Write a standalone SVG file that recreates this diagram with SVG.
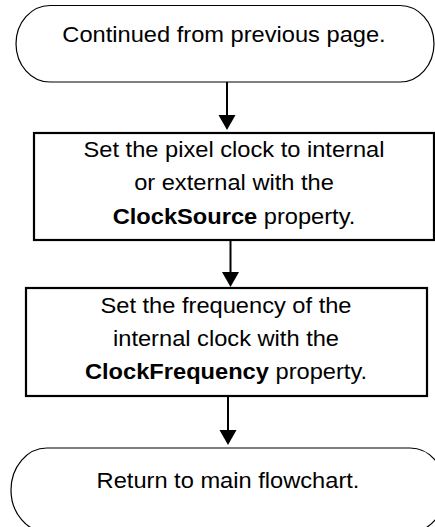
<svg xmlns="http://www.w3.org/2000/svg" width="435" height="527" viewBox="0 0 435 527">
  <style>
    .term { fill: #ffffff; stroke: #000000; stroke-width: 1.2; }
    .box { fill: #ffffff; stroke: #000000; stroke-width: 2.2; }
    .conn { stroke: #000000; stroke-width: 2; fill: none; }
    .t { font-family: "Liberation Sans", Arial, sans-serif; font-size: 21.5px; fill: #000000; text-anchor: middle; }
    .b { font-weight: bold; }
  </style>
  <defs>
    <marker id="ah" markerUnits="userSpaceOnUse" markerWidth="15" markerHeight="18" viewBox="0 0 15 18" refX="11" refY="9" orient="auto">
      <path d="M0,0.5 L15,9 L0,17.5 Z" fill="#000000"/>
    </marker>
  </defs>
  <rect width="435" height="527" fill="#ffffff"/>

  <g id="connectors">
    <line class="conn" x1="227" y1="82" x2="227" y2="126" marker-end="url(#ah)"/>
    <line class="conn" x1="230.5" y1="241" x2="230.5" y2="283" marker-end="url(#ah)"/>
    <line class="conn" x1="228" y1="396" x2="228" y2="441" marker-end="url(#ah)"/>
  </g>

  <g id="start">
    <path class="term" d="M50,5.5 H400 A34,38.25 0 0 1 400,82 H50 A34,38.25 0 0 1 50,5.5 Z"/>
    <g transform="translate(224,0) scale(1.1,1)">
      <text class="t" x="0" y="42">Continued from previous page.</text>
    </g>
  </g>

  <g id="clocksource">
    <rect class="box" x="34" y="133" width="400" height="107"/>
    <g transform="translate(234,0) scale(1.1,1)">
      <text class="t" x="0" y="157">Set the pixel clock to internal</text>
      <text class="t" x="0" y="190.5">or external with the</text>
      <text class="t" x="0" y="224"><tspan class="b">ClockSource</tspan> property.</text>
    </g>
  </g>

  <g id="clockfrequency">
    <rect class="box" x="26" y="288" width="401" height="108"/>
    <g transform="translate(226,0) scale(1.1,1)">
      <text class="t" x="0" y="313">Set the frequency of the</text>
      <text class="t" x="0" y="346.5">internal clock with the</text>
      <text class="t" x="0" y="379.5"><tspan class="b">ClockFrequency</tspan> property.</text>
    </g>
  </g>

  <g id="end">
    <path class="term" d="M47,448 H410 A36,42 0 0 1 410,532 H47 A36,42 0 0 1 47,448 Z"/>
    <g transform="translate(228,0) scale(1.1,1)">
      <text class="t" x="0" y="488.5">Return to main flowchart.</text>
    </g>
  </g>
</svg>
